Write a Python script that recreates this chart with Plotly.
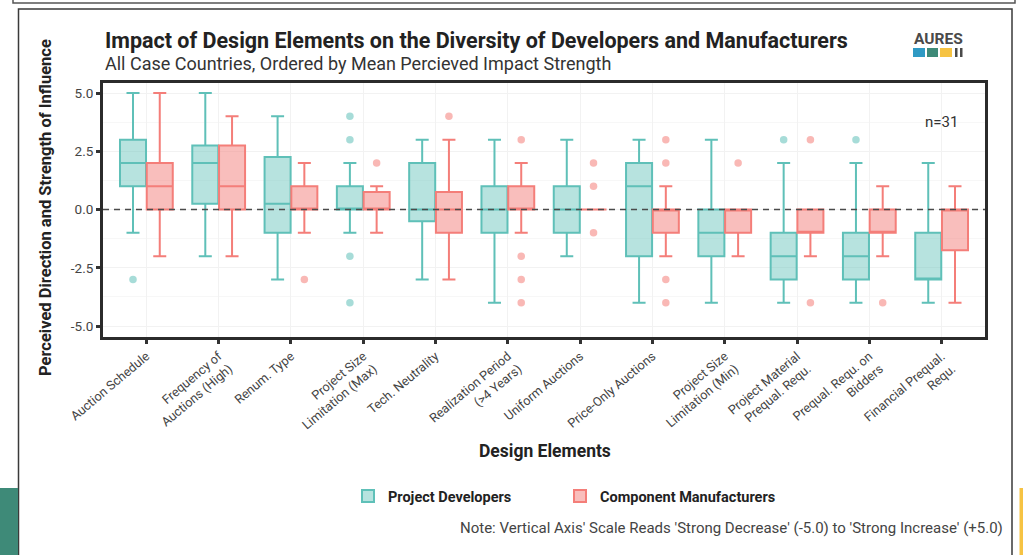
import plotly.graph_objects as go

# Design elements (x-axis order)
categories = [
    "Auction Schedule",
    "Frequency of<br>Auctions (High)",
    "Renum. Type",
    "Project Size<br>Limitation (Max)",
    "Tech. Neutrality",
    "Realization Period<br>(>4 Years)",
    "Uniform Auctions",
    "Price-Only Auctions",
    "Project Size<br>Limitation (Min)",
    "Project Material<br>Prequal. Requ.",
    "Prequal. Requ. on<br>Bidders",
    "Financial Prequal.<br>Requ.",
]

# Project developers: box statistics per element
dev_lower = [-1, -2, -3, -1, -3, -4, -2, -4, -4, -4, -4, -4]
dev_q1 = [1, 0.25, -1, 0, -0.5, -1, -1, -2, -2, -3, -3, -3]
dev_median = [2, 2, 0.25, 0, 0, 0, 0, 1, -1, -2, -2, -3]
dev_q3 = [3, 2.75, 2.25, 1, 2, 1, 1, 2, 0, -1, -1, -1]
dev_upper = [5, 5, 4, 2, 3, 3, 3, 3, 3, 2, 2, 2]
dev_outliers = {0: [-3], 3: [4, 3, -2, -4], 9: [3], 10: [3]}

# Component manufacturers: box statistics per element
man_lower = [-2, -2, -1, -1, -3, -1, 0, -2, -2, -2, -2, -4]
man_q1 = [0, 0, 0, 0, -1, 0, 0, -1, -1, -1, -1, -1.75]
man_median = [1, 1, 0, 0, 0, 0, 0, 0, 0, -1, -1, 0]
man_q3 = [2, 2.75, 1, 0.75, 0.75, 1, 0, 0, 0, 0, 0, 0]
man_upper = [5, 4, 2, 1, 3, 2, 0, 1, 0, 0, 1, 1]
man_outliers = {2: [-3], 3: [2], 4: [4], 5: [3, -2, -3, -4], 6: [2, 1, -1],
                7: [3, 2, -3, -4], 8: [2], 9: [3, -4], 10: [-4]}

y_ticks = [5.0, 2.5, 0.0, -2.5, -5.0]
sample_note = "n=31"

TEAL_LINE = "#5FC0B8"
TEAL_FILL = "rgba(95,192,184,0.45)"
TEAL_DOT = "rgba(95,192,184,0.55)"
RED_LINE = "#F47E79"
RED_FILL = "rgba(244,126,121,0.5)"
RED_DOT = "rgba(244,126,121,0.55)"

DODGE = 0.185
BOX_W = 0.36

W, H = 1023, 555
ML, MR, MT, MB = 103, 38, 83, 218
PW, PH = W - ML - MR, H - MT - MB


def px(x):
    return (x - ML) / PW


def py(y):
    return (H - MB - y) / PH


idx = list(range(len(categories)))
dev_x = [i - DODGE for i in idx]
man_x = [i + DODGE for i in idx]

fig = go.Figure()

fig.add_trace(go.Box(
    name="Project Developers", x=dev_x, legend="legend",
    q1=dev_q1, median=dev_median, q3=dev_q3,
    lowerfence=dev_lower, upperfence=dev_upper,
    width=BOX_W, fillcolor=TEAL_FILL, line=dict(color=TEAL_LINE, width=2),
    boxpoints=False, hoverinfo="skip",
))
fig.add_trace(go.Box(
    name="Component Manufacturers", x=man_x, legend="legend2",
    q1=man_q1, median=man_median, q3=man_q3,
    lowerfence=man_lower, upperfence=man_upper,
    width=BOX_W, fillcolor=RED_FILL, line=dict(color=RED_LINE, width=2),
    boxpoints=False, hoverinfo="skip",
))


def outlier_trace(outliers, offset, color):
    xs, ys = [], []
    for i, vals in outliers.items():
        for v in vals:
            xs.append(i + offset)
            ys.append(v)
    return go.Scatter(x=xs, y=ys, mode="markers", showlegend=False, hoverinfo="skip",
                      marker=dict(size=7.5, color=color, line=dict(width=0)))


fig.add_trace(outlier_trace(dev_outliers, -DODGE, TEAL_DOT))
fig.add_trace(outlier_trace(man_outliers, DODGE, RED_DOT))

shapes = [
    # dashed zero reference
    dict(type="line", xref="paper", yref="y", x0=0, x1=1, y0=0, y1=0, layer="above",
         line=dict(color="#4a4a4a", width=1.6, dash="6px,5px")),
    # card above (bottom edge)
    dict(type="rect", xref="paper", yref="paper", x0=px(13), x1=px(1015), y0=py(3), y1=py(-20),
         line=dict(color="#555555", width=1.5), fillcolor="rgba(0,0,0,0)", layer="below"),
    # chart card outline
    dict(type="rect", xref="paper", yref="paper", x0=px(18.5), x1=px(1012), y0=py(9), y1=py(600),
         line=dict(color="#3a3a3a", width=1.5), fillcolor="rgba(0,0,0,0)", layer="below"),
    # side accents
    dict(type="rect", xref="paper", yref="paper", x0=px(0), x1=px(18), y0=py(488), y1=py(556),
         line=dict(width=0), fillcolor="#3E8A78", layer="below"),
    dict(type="rect", xref="paper", yref="paper", x0=px(1019.5), x1=px(1023), y0=py(488), y1=py(556),
         line=dict(width=0), fillcolor="#F6C343", layer="below"),
    # logo tiles
    dict(type="rect", xref="paper", yref="paper", x0=px(913), x1=px(925), y0=py(57), y1=py(48),
         line=dict(width=0), fillcolor="#2F9AC4"),
    dict(type="rect", xref="paper", yref="paper", x0=px(927), x1=px(938), y0=py(57), y1=py(48),
         line=dict(width=0), fillcolor="#3E8A78"),
    dict(type="rect", xref="paper", yref="paper", x0=px(940), x1=px(952), y0=py(57), y1=py(48),
         line=dict(width=0), fillcolor="#F6C343"),
    dict(type="rect", xref="paper", yref="paper", x0=px(955), x1=px(957.5), y0=py(57), y1=py(48),
         line=dict(width=0), fillcolor="#4a4a4a"),
    dict(type="rect", xref="paper", yref="paper", x0=px(960), x1=px(962.5), y0=py(57), y1=py(48),
         line=dict(width=0), fillcolor="#4a4a4a"),
]

annotations = [
    dict(text="<b>Impact of Design Elements on the Diversity of Developers and Manufacturers</b>",
         xref="paper", yref="paper", x=px(103), y=py(40), xanchor="left", yanchor="middle",
         showarrow=False, font=dict(family="Roboto", size=21.5, color="#222222")),
    dict(text="All Case Countries, Ordered by Mean Percieved Impact Strength",
         xref="paper", yref="paper", x=px(103), y=py(64), xanchor="left", yanchor="middle",
         showarrow=False, font=dict(family="Roboto", size=18, color="#333333")),
    dict(text="<b>AURES</b>", xref="paper", yref="paper", x=px(938), y=py(39),
         xanchor="center", yanchor="middle", showarrow=False,
         font=dict(family="Roboto", size=15.5, color="#4a4a4a")),
    dict(text="<b>Perceived Direction and Strength of Influence</b>", textangle=-90,
         xref="paper", yref="paper", x=px(45), y=py(208), xanchor="center", yanchor="middle",
         showarrow=False, font=dict(family="Roboto", size=16.5, color="#222222")),
    dict(text="<b>Design Elements</b>", xref="paper", yref="paper", x=px(545), y=py(451),
         xanchor="center", yanchor="middle", showarrow=False,
         font=dict(family="Roboto", size=17.5, color="#222222")),
    dict(text=sample_note, xref="x", yref="y", x=11, y=3.75, xanchor="center", yanchor="middle",
         showarrow=False, font=dict(family="Roboto", size=15, color="#333333")),
    dict(text="Note: Vertical Axis' Scale Reads 'Strong Decrease' (-5.0) to 'Strong Increase' (+5.0)",
         xref="paper", yref="paper", x=px(1005), y=py(528), xanchor="right", yanchor="middle",
         showarrow=False, font=dict(family="Roboto", size=15, color="#444444")),
]

legend_style = dict(orientation="h", yanchor="middle", xanchor="left", y=py(496),
                    font=dict(family="Roboto", size=14.5, color="#222222", weight="bold"),
                    bgcolor="rgba(0,0,0,0)", itemwidth=30)

fig.update_layout(
    width=W, height=H,
    margin=dict(l=ML, r=MR, t=MT, b=MB),
    paper_bgcolor="white", plot_bgcolor="white",
    font=dict(family="Roboto", color="#444444"),
    shapes=shapes, annotations=annotations,
    boxmode="overlay",
    legend=dict(x=px(348), **legend_style),
    legend2=dict(x=px(560), **legend_style),
)

fig.update_xaxes(
    range=[-0.6, 11.6], tickmode="array", tickvals=idx, ticktext=categories,
    tickangle=-40, tickfont=dict(family="Roboto", size=12.7, color="#444444"),
    ticks="outside", ticklen=4, tickwidth=3, tickcolor="#333333",
    showline=True, mirror=True, linewidth=3, linecolor="#2b2b2b",
    showgrid=True, gridcolor="#f2f2f2", gridwidth=1, zeroline=False,
)
fig.update_yaxes(
    range=[-5.47, 5.43], tickmode="array", tickvals=y_ticks,
    ticktext=[f"{v:.1f}" for v in y_ticks],
    tickfont=dict(family="Roboto", size=13.5, color="#444444"),
    ticks="outside", ticklen=4, tickwidth=3, tickcolor="#333333",
    showline=True, mirror=True, linewidth=3, linecolor="#2b2b2b",
    showgrid=True, gridcolor="#f2f2f2", gridwidth=1, zeroline=False,
    minor=dict(tickvals=[3.75, 1.25, -1.25, -3.75], showgrid=True, gridcolor="#f7f7f7", ticks=""),
)

fig.write_html("out.html")
